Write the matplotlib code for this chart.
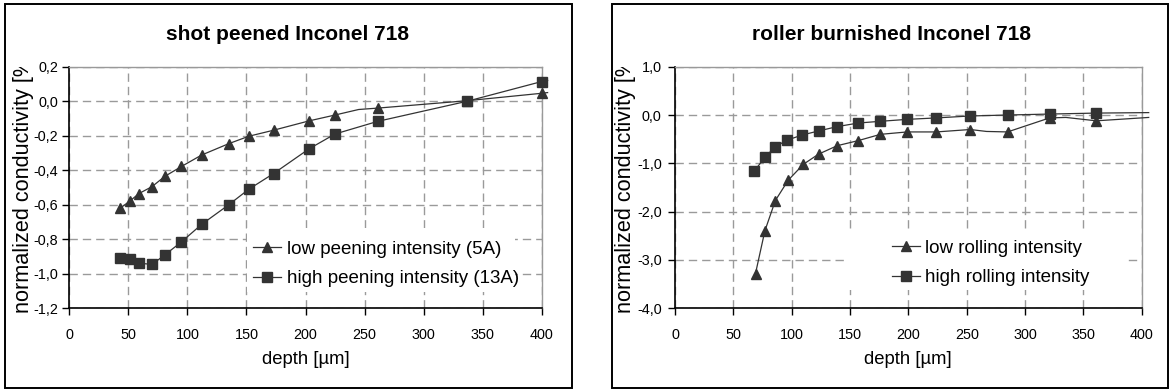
import matplotlib
matplotlib.use('Agg')
import matplotlib.pyplot as plt
import matplotlib.lines as mlines
import matplotlib.patches as mpatches
from matplotlib.ticker import FuncFormatter
from matplotlib.transforms import Bbox, TransformedBbox
import numpy as np

plt.rcParams['font.family'] = ['Liberation Sans', 'DejaVu Sans']
plt.rcParams['lines.scale_dashes'] = False

W, H = 1169, 392
INK = '#333333'

# shot peened Inconel 718 (markers)
peen_depth = [43, 51, 59, 70, 81, 95, 112, 135, 152, 173, 203, 225, 261, 337, 400]
peen_low = [-0.62, -0.58, -0.535, -0.495, -0.435, -0.378, -0.312, -0.246, -0.203,
            -0.168, -0.114, -0.080, -0.040, 0.003, 0.046]
peen_high = [-0.906, -0.917, -0.938, -0.946, -0.89, -0.815, -0.714, -0.60, -0.51,
             -0.419, -0.276, -0.19, -0.117, 0.0, 0.114]
# extra points on the curves without markers
peen_low_extra_x = [245, 405]
peen_low_extra_y = [-0.048, 0.05]
peen_high_extra_x = [405]
peen_high_extra_y = [0.12]

# roller burnished Inconel 718 (markers)
roll_depth_low = [69, 77, 86, 97, 110, 123, 139, 157, 176, 199, 224, 253, 285, 321, 361]
roll_low = [-3.28, -2.40, -1.77, -1.35, -1.02, -0.81, -0.635, -0.53, -0.40, -0.35,
            -0.35, -0.30, -0.35, -0.06, -0.12]
roll_depth_high = [68, 77, 86, 96, 109, 123, 139, 157, 176, 199, 224, 253, 285, 321, 361]
roll_high = [-1.16, -0.876, -0.655, -0.52, -0.414, -0.33, -0.24, -0.166, -0.13, -0.09,
             -0.06, -0.02, 0.0, 0.02, 0.04]
roll_low_extra_x = [267, 335, 406]
roll_low_extra_y = [-0.34, -0.05, -0.05]
roll_high_extra_x = [406]
roll_high_extra_y = [0.05]

x_ticks = [0, 50, 100, 150, 200, 250, 300, 350, 400]
peen_yticks = [-1.2, -1.0, -0.8, -0.6, -0.4, -0.2, 0.0, 0.2]
roll_yticks = [-4.0, -3.0, -2.0, -1.0, 0.0, 1.0]


def curve(x, y, ex, ey):
    xs = np.concatenate([x, ex])
    ys = np.concatenate([y, ey])
    order = np.argsort(xs)
    return xs[order], ys[order]


def comma(v, pos):
    return ('%.1f' % v).replace('.', ',').replace('-0,0', '0,0')


def panel(fig, px, frame_x, title, title_x, xlabel_x, ylabel_x, ypad,
          series, yticks, labels, leg_bg, leg_anchor):
    # px: left, right pixel of the plot area
    ax = fig.add_axes([px[0] / W, 1 - 308.3 / H, (px[1] - px[0]) / W, 241.6 / H])
    fig.patches.append(mpatches.Rectangle((frame_x[0] / W, 1 - 388 / H),
                                          (frame_x[1] - frame_x[0]) / W, 384 / H,
                                          transform=fig.transFigure, fill=False,
                                          edgecolor='black', lw=1.4))

    handles = []
    for (x, y, ex, ey, mk) in series:
        lx, ly = curve(x, y, ex, ey)
        ax.plot(lx, ly, color=INK, lw=0.9, clip_on=False, zorder=3)
        ax.plot(x, y, marker=mk, ls='none', ms=7, color=INK, clip_on=False, zorder=4)
        handles.append(mlines.Line2D([], [], color=INK, lw=0.9, marker=mk, ms=7))

    ax.set_xlim(0, 400)
    ax.set_ylim(yticks[0], yticks[-1])
    ax.set_xticks(x_ticks)
    ax.set_yticks(yticks)
    ax.yaxis.set_major_formatter(FuncFormatter(comma))
    ax.tick_params(direction='out', length=5, width=1, colors='black', labelsize=10.4)
    ax.tick_params(axis='x', pad=9)
    ax.tick_params(axis='y', pad=ypad)
    ax.grid(True, color='#9a9a9a', lw=1, linestyle=(0, (6, 3.6)))
    ax.set_axisbelow(True)
    for s in ['left', 'bottom']:
        ax.spines[s].set_color('black')
        ax.spines[s].set_linewidth(1.2)
    for s in ['top', 'right']:
        ax.spines[s].set_color('#999999')
        ax.spines[s].set_linewidth(1)

    # white area behind the legend hides the grid
    ax.add_patch(mpatches.Rectangle((leg_bg[0], leg_bg[1]), leg_bg[2], leg_bg[3],
                                    transform=ax.transAxes, facecolor='white',
                                    edgecolor='none', zorder=1))
    ax.legend(handles, labels, loc='upper left', bbox_to_anchor=leg_anchor,
              frameon=False, fontsize=13.5, borderpad=0, borderaxespad=0,
              handlelength=1.5, handletextpad=0.3, labelspacing=0.66, numpoints=1)

    fig.text(title_x / W, 1 - 34 / H, title, ha='center', va='center',
             fontsize=15, fontweight='bold')
    fig.text(xlabel_x / W, 1 - 359 / H, 'depth [µm]', ha='center', va='center',
             fontsize=13.3)
    yl = fig.text(ylabel_x / W, 1 - 313 / H, 'normalized conductivity [%]',
                  rotation=90, ha='center', va='bottom', fontsize=15.6)
    yl.set_clip_box(TransformedBbox(Bbox([[-1, -0.3], [1, 1]]), ax.transAxes))
    yl.set_clip_on(True)
    return ax


def main():
    fig = plt.figure(figsize=(W / 100, H / 100), dpi=100)

    panel(fig, (69.3, 541.7), (5, 572), 'shot peened Inconel 718', 288, 305.5, 23.5, 3.2,
          [(peen_depth, peen_low, peen_low_extra_x, peen_low_extra_y, '^'),
           (peen_depth, peen_high, peen_high_extra_x, peen_high_extra_y, 's')],
          peen_yticks, ['low peening intensity (5A)', 'high peening intensity (13A)'],
          (0.376, 0.067, 0.567, 0.265), (0.3895, 0.28))

    panel(fig, (675, 1141.7), (612, 1167.5), 'roller burnished Inconel 718', 892, 908, 626, 4.6,
          [(roll_depth_low, roll_low, roll_low_extra_x, roll_low_extra_y, '^'),
           (roll_depth_high, roll_high, roll_high_extra_x, roll_high_extra_y, 's')],
          roll_yticks, ['low rolling intensity', 'high rolling intensity'],
          (0.371, 0.076, 0.595, 0.248), (0.4643, 0.285))

    fig.savefig('out.png', dpi=100)


if __name__ == '__main__':
    main()
